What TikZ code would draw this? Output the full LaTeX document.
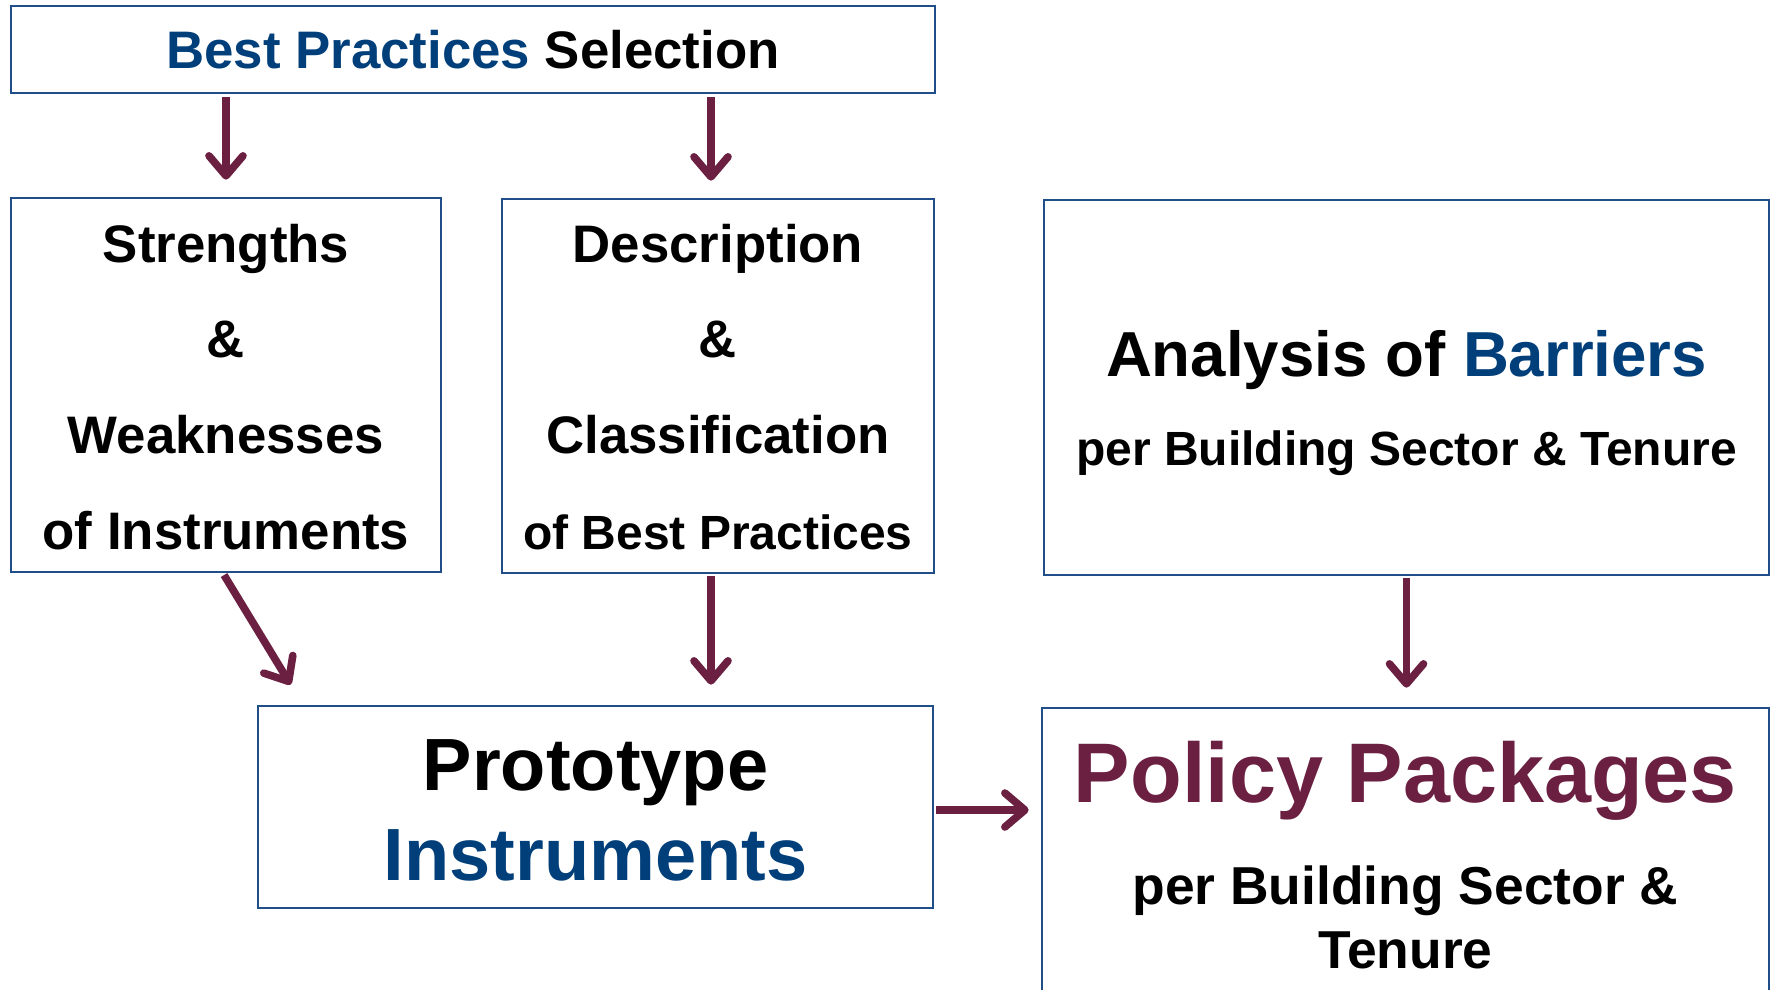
\documentclass[tikz,border=0pt]{standalone}
\usepackage{fontspec}
\setmainfont{Liberation Sans}
\usetikzlibrary{arrows.meta}
\definecolor{tblue}{HTML}{003F7A}
\definecolor{bline}{HTML}{1F4E89}
\definecolor{maroon}{HTML}{6B1F41}
\tikzset{
  box/.style={draw=bline, line width=1.35pt, inner sep=0pt, fill=white},
  txt/.style={anchor=base, inner sep=0pt, font=\bfseries},
  arr/.style={draw=maroon, line width=3.8pt, -{Straight Barb[length=10pt,width=17pt,round]}},
}
\newcommand{\fs}[1]{\fontsize{#1}{#1}\selectfont}
\begin{document}
\begin{tikzpicture}[x=0.5pt,y=-0.5pt]
\useasboundingbox (0,0) rectangle (1772,990);
\clip (0,0) rectangle (1772,990);
% boxes
\node[box, minimum width=462pt, minimum height=43.5pt] (top) at (473,49.5) {};
\node[box, minimum width=215pt, minimum height=187pt] (sl) at (226,385) {};
\node[box, minimum width=216pt, minimum height=187pt] (mid) at (718,386) {};
\node[box, minimum width=362.5pt, minimum height=187.5pt] (bar) at (1406.5,387.5) {};
\node[box, minimum width=337.5pt, minimum height=101pt] (proto) at (595.5,807) {};
\node[box, minimum width=363.5pt, minimum height=151pt] (pol) at (1405.5,859) {};
% texts
\node[txt] (t1) at (473,69) {\fs{26.4}\textcolor{tblue}{Best Practices} Selection};
\node[txt] (s1) at (226,262) {\fs{26.4}Strengths};
\node[txt] (s2) at (226,357) {\fs{26.4}\&};
\node[txt] (s3) at (226,453) {\fs{26.4}Weaknesses};
\node[txt] (s4) at (226,549) {\fs{26.4}of Instruments};
\node[txt] (m1) at (718,262) {\fs{26.4}Description};
\node[txt] (m2) at (718,357) {\fs{26.4}\&};
\node[txt] (m3) at (718,453) {\fs{26.4}Classification};
\node[txt] (m4) at (718,549) {\fs{24}of Best Practices};
\node[txt] (b1) at (1406.5,376) {\fs{31.8}Analysis of \textcolor{tblue}{Barriers}};
\node[txt] (b2) at (1406.5,465.5) {\fs{24}per Building Sector \& Tenure};
\node[txt] (p1) at (595.5,790) {\fs{37}Prototype};
\node[txt] (p2) at (595.5,880) {\fs{37}\textcolor{tblue}{Instruments}};
\node[txt] (q1) at (1405.5,802) {\fs{42.3}\textcolor{maroon}{Policy Packages}};
\node[txt] (q2) at (1405.5,904) {\fs{26.7}per Building Sector \&};
\node[txt] (q3) at (1405.5,968) {\fs{26.7}Tenure};
% connectors
\draw[arr, shorten <=1.5pt, shorten >=8.5pt] (top.south -| sl.north) -- (sl.north);
\draw[arr, shorten <=1.5pt, shorten >=8.5pt] ([xshift=-3.5pt]top.south -| mid.north) -- ([xshift=-3.5pt]mid.north);
\draw[arr, shorten <=1pt] ([xshift=-1.5pt]sl.south) -- ([shift={(34,-20)}]proto.north west);
\draw[arr, shorten <=1pt, shorten >=10pt] ([xshift=-3.5pt]mid.south) -- ([xshift=-3.5pt]mid.south |- proto.north);
\draw[arr, shorten <=1pt, shorten >=9.5pt] (bar.south) -- (bar.south |- pol.north);
\draw[arr, shorten <=1pt, shorten >=6pt] ([yshift=-1.5pt]proto.east) -- ([yshift=-1.5pt]proto.east -| pol.west);
\end{tikzpicture}
\end{document}
